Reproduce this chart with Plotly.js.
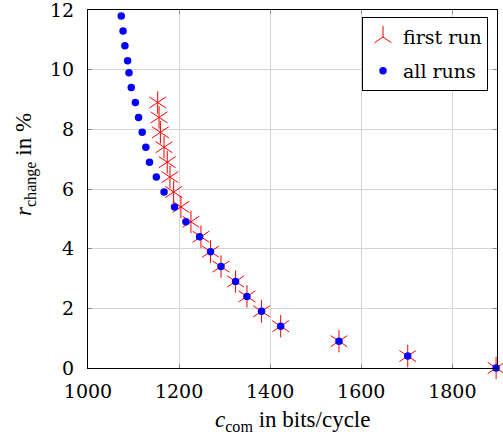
<!DOCTYPE html>
<html>
<head>
<meta charset="utf-8">
<script src="https://cdn.plot.ly/plotly-3.0.1.min.js"></script>
<style>html,body{margin:0;padding:0;background:#fff;}#chart{width:503px;height:437px;}</style>
</head>
<body>
<div id="chart"></div>
<script>
// first run
const firstRunX = [1153, 1156, 1159, 1167, 1174, 1180, 1188, 1204, 1226, 1248, 1269, 1292, 1324, 1349, 1381, 1423, 1551, 1702, 1896];
const firstRunY = [8.9, 8.4, 7.9, 7.4, 6.9, 6.4, 5.9, 5.4, 4.9, 4.4, 3.9, 3.4, 2.9, 2.4, 1.9, 1.4, 0.9, 0.4, 0];
// all runs
const allRunsX = [1073, 1077, 1081, 1087, 1090, 1095, 1104, 1111, 1119, 1127, 1135, 1150, 1167, 1190, 1215, 1245, 1269, 1292, 1324, 1349, 1381, 1423, 1551, 1702, 1896];
const allRunsY = [11.8, 11.3, 10.8, 10.3, 9.9, 9.4, 8.9, 8.4, 7.9, 7.4, 6.9, 6.4, 5.9, 5.4, 4.9, 4.4, 3.9, 3.4, 2.9, 2.4, 1.9, 1.4, 0.9, 0.4, 0];
const xTicks = [1000, 1200, 1400, 1600, 1800];
const yTicks = [0, 2, 4, 6, 8, 10, 12];
const xTitle = '<i>c</i><sub>com</sub> in bits/cycle';
const yTitle = '<i>r</i><sub>change</sub> in %';

const TICKFONT = 'DejaVu Serif';
const TITLEFONT = 'Liberation Serif';
const traces = [
  {x: firstRunX, y: firstRunY, type: 'scatter', mode: 'markers', name: 'first run', legendgroup: 'a',
   marker: {symbol: 'y-up-open', size: 14, color: '#ff0000', line: {color: '#ff0000', width: 1}}, cliponaxis: false},
  {x: firstRunX, y: firstRunY, type: 'scatter', mode: 'markers', name: 'first run', legendgroup: 'a', showlegend: false,
   marker: {symbol: 'y-down-open', size: 14, color: '#ff0000', line: {color: '#ff0000', width: 1}}, cliponaxis: false},
  {x: allRunsX, y: allRunsY, type: 'scatter', mode: 'markers', name: 'all runs', legendgroup: 'b',
   marker: {symbol: 'circle', size: 7.5, color: '#0000ff', line: {width: 0}}, cliponaxis: false}
];
function axis(extra) {
  return Object.assign({
    showline: true, linecolor: '#000', linewidth: 1, mirror: 'ticks',
    ticks: 'inside', ticklen: 4, tickcolor: '#8a8a8a', tickwidth: 1,
    showgrid: true, gridcolor: '#d4d4d4', gridwidth: 1, zeroline: false,
    ticklabeloverflow: 'allow',
    tickfont: {family: TICKFONT, size: 19, color: '#000'}
  }, extra);
}
const layout = {
  width: 503, height: 437,
  margin: {l: 88, r: 6, t: 10, b: 69},
  paper_bgcolor: '#fff', plot_bgcolor: '#fff',
  font: {family: TICKFONT, size: 19, color: '#000'},
  xaxis: axis({range: [1000, 1898], tickvals: xTicks, ticktext: xTicks.map(String), ticklabelstandoff: 6}),
  yaxis: axis({range: [0, 12], tickvals: yTicks, ticktext: yTicks.map(String), ticklabelstandoff: 9}),
  annotations: [
    {xref: 'paper', yref: 'paper', x: 0.5, y: 0, xanchor: 'center', yanchor: 'middle', yshift: -53,
     text: xTitle, showarrow: false, font: {family: TITLEFONT, size: 23, color: '#000'}},
    {xref: 'paper', yref: 'paper', x: 0, y: 0.567, xanchor: 'center', yanchor: 'middle', xshift: -63,
     textangle: -90, text: yTitle, showarrow: false, font: {family: TITLEFONT, size: 23, color: '#000'}}
  ],
  legend: {
    x: 0.978, xanchor: 'right', y: 0.98, yanchor: 'top', traceorder: 'grouped', tracegroupgap: 6,
    bgcolor: '#fff', bordercolor: '#000', borderwidth: 1,
    font: {family: TICKFONT, size: 19, color: '#000'}, itemwidth: 30
  },
  showlegend: true
};
Plotly.newPlot('chart', traces, layout, {staticPlot: true, displayModeBar: false});
</script>
</body>
</html>
